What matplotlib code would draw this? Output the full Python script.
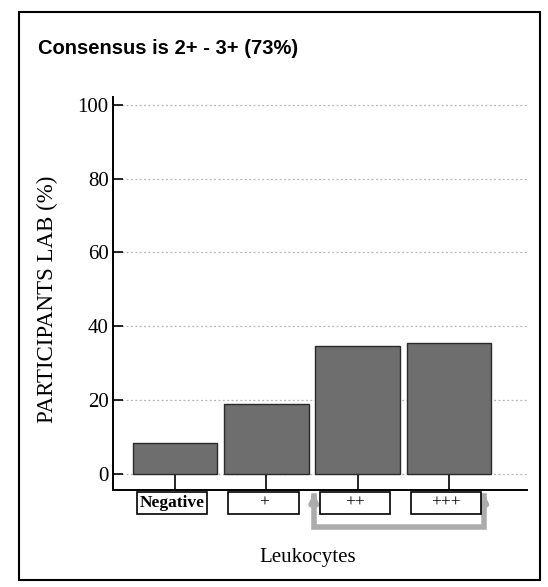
import numpy as np
import matplotlib
matplotlib.use("Agg")
from matplotlib import pyplot as plt
from matplotlib.patches import Rectangle
from matplotlib.transforms import blended_transform_factory

# data
categories = ['Negative', '+', '++', '+++']
values = [8.2, 18.8, 34.5, 35.3]
yticks = [0, 20, 40, 60, 80, 100]

title = 'Consensus is 2+ - 3+ (73%)'
ylabel = 'PARTICIPANTS LAB (%)'
xlabel = 'Leukocytes'

serif = 'Liberation Serif'

fig = plt.figure(figsize=(5.48, 5.87), dpi=100)
ax = fig.add_axes([0.206, 0.165, 0.755, 0.67])

x = np.arange(len(categories))
ax.bar(x, values, width=0.93, color='#6e6e6e', edgecolor='#2a2a2a', linewidth=1, zorder=3)

# dotted gridlines
for t in yticks:
    ax.axhline(t, color='#b5b5b5', linestyle=(0, (1.5, 2)), linewidth=0.9, zorder=1)

ax.set_xlim(-0.68, 3.85)
ax.set_ylim(-4.5, 102.2)
ax.set_yticks(yticks)
ax.set_yticklabels([str(t) for t in yticks], family=serif, fontsize=15)
ax.set_xticks(x)
ax.set_xticklabels([])
ax.tick_params(axis='y', direction='in', length=7, width=1.2, pad=3)
ax.tick_params(axis='x', direction='in', length=13, width=1.2)
for side in ['top', 'right']:
    ax.spines[side].set_visible(False)
ax.spines['left'].set_linewidth(1.4)
ax.spines['bottom'].set_linewidth(1.4)

# boxed category labels under the axis
trans = blended_transform_factory(ax.transData, ax.transAxes)
box_w = 0.77
for xi, lab in zip(x, categories):
    ax.add_patch(Rectangle((xi - box_w / 2 - 0.03, -0.06), box_w, 0.055, transform=trans,
                           facecolor='white', edgecolor='black', linewidth=1.2,
                           clip_on=False, zorder=4))
    ax.text(xi - 0.03, -0.0325, lab, transform=trans, ha='center', va='center',
            family=serif, fontsize=12.5, fontweight='bold' if lab == 'Negative' else 'normal',
            zorder=5)

# grey bracket with arrows marking the consensus categories
gray = '#acacac'
xa, xb, yb = 1.52, 3.38, -0.094
ax.plot([xa, xa, xb, xb], [-0.015, yb, yb, -0.015], transform=trans, color=gray,
        linewidth=4, solid_joinstyle='miter', clip_on=False, zorder=2)
for xx in (xa, xb):
    ax.annotate('', xy=(xx, 0.0), xytext=(xx, -0.03), xycoords=trans, textcoords=trans,
                arrowprops=dict(arrowstyle='-|>', color=gray, lw=4, mutation_scale=10),
                annotation_clip=False)

fig.text(0.562, 0.051, xlabel, ha='center', va='center', family=serif, fontsize=15)
fig.text(0.086, 0.49, ylabel, ha='center', va='center', rotation=90, family=serif,
         fontsize=16.5)
fig.text(0.069, 0.918, title, ha='left', va='center', family='Liberation Sans',
         fontsize=14.5, fontweight='bold')

# outer frame
fig.patches.append(Rectangle((0.034, 0.012), 0.951, 0.967, transform=fig.transFigure,
                             fill=False, edgecolor='black', linewidth=1.5))

plt.savefig('out.png', dpi=100)
